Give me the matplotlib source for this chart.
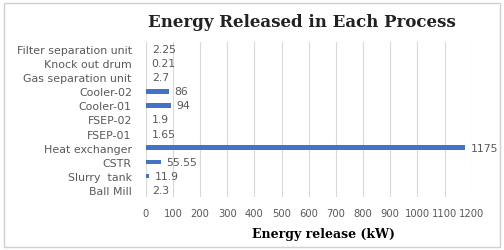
import matplotlib
matplotlib.use("Agg")
import matplotlib.pyplot as plt
from matplotlib.patches import Rectangle

# process units, bottom to top as drawn
units = ["Ball Mill", "Slurry  tank", "CSTR", "Heat exchanger", "FSEP-01", "FSEP-02",
         "Cooler-01", "Cooler-02", "Gas separation unit", "Knock out drum",
         "Filter separation unit"]
energy = [2.3, 11.9, 55.55, 1175, 1.65, 1.9, 94, 86, 2.7, 0.21, 2.25]
labels = ["2.3", "11.9", "55.55", "1175", "1.65", "1.9", "94", "86", "2.7", "0.21", "2.25"]
xticks = list(range(0, 1300, 100))

BAR = "#4472C4"
GREY = "#595959"
plt.rcParams['font.family'] = ['DejaVu Sans']

fig = plt.figure(figsize=(5.04, 2.51), dpi=100)
ax = fig.add_axes([0.289, 0.211, 0.647, 0.618])

ypos = list(range(len(units)))
ax.barh(ypos, energy, height=0.32, color=BAR, zorder=3)
for y, v, t in zip(ypos, energy, labels):
    ax.text(v + 20, y, t, va="center", ha="left", fontsize=7.8, color=GREY, zorder=4)

ax.set_xlim(0, 1200)
ax.set_ylim(-0.5, len(units) - 0.5)
ax.set_yticks(ypos)
ax.set_yticklabels(units, fontsize=7.9, color=GREY)
ax.set_xticks(xticks)
ax.set_xticklabels([str(t) for t in xticks], fontsize=7.2, color=GREY)
ax.tick_params(length=0, pad=10)
ax.tick_params(axis="x", pad=8)
ax.grid(axis="x", color="#d9d9d9", linewidth=0.8, zorder=0)
for s in ax.spines.values():
    s.set_visible(False)
ax.axvline(0, color="#d9d9d9", linewidth=0.8, zorder=1)

ax.set_xlabel("Energy release (kW)", fontsize=9, fontweight="bold",
              family="DejaVu Serif")
ax.xaxis.set_label_coords(0.546, -0.19)
fig.text(0.598, 0.912, "Energy Released in Each Process", ha="center", va="center",
         fontsize=12, fontweight="bold", family="DejaVu Serif", color="#222222")

fig.patches.append(Rectangle((0.008, 0.01), 0.984, 0.975, transform=fig.transFigure,
                             fill=False, edgecolor="#d0d0d0", linewidth=1))

fig.savefig("out.png", dpi=100)
